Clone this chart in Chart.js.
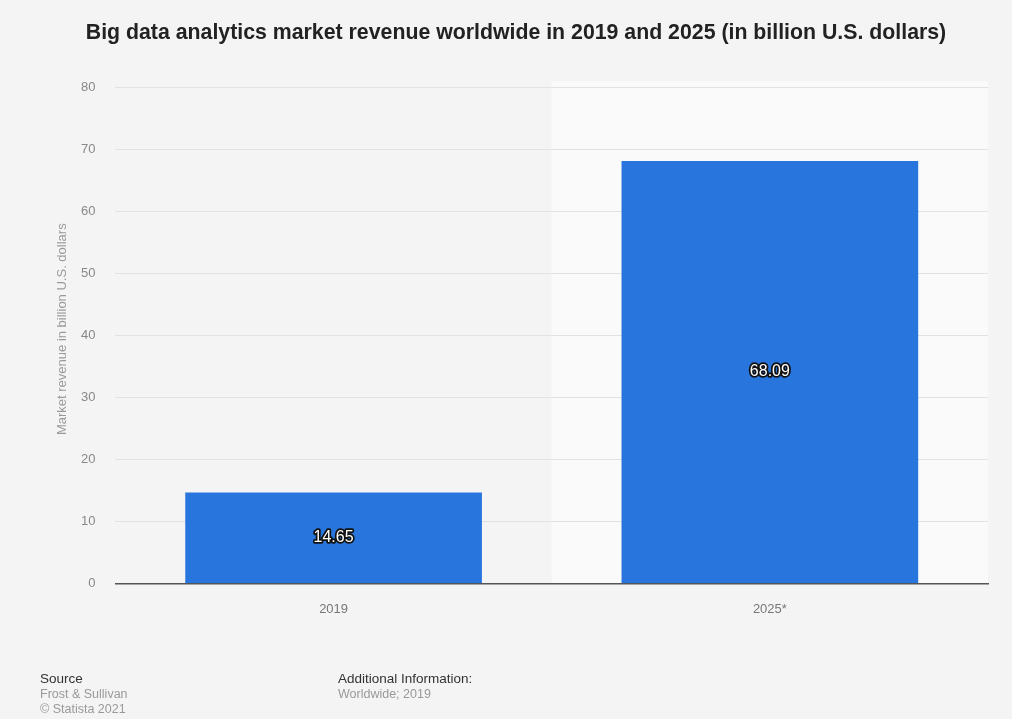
<!DOCTYPE html>
<html>
<head>
<meta charset="utf-8">
<script src="https://cdn.jsdelivr.net/npm/chart.js@4.4.1/dist/chart.umd.min.js"></script>
<style>
  body { margin: 0; background: #f4f4f4; font-family: "Liberation Sans", Arial, sans-serif; }
  #wrap { position: relative; width: 1012px; height: 719px; }
  .foot { position: absolute; font-size: 12.5px; line-height: 15px; color: #999; }
  .foot b { font-weight: normal; font-size: 13.5px; color: #333; }
</style>
</head>
<body>
<div id="wrap">
  <canvas id="chart" width="1012" height="719"></canvas>
  <div class="foot" style="left:40px; top:671px;"><b>Source</b><br>Frost &amp; Sullivan<br>© Statista 2021</div>
  <div class="foot" style="left:338px; top:671px;"><b>Additional Information:</b><br>Worldwide; 2019</div>
</div>
<script>
const years = ['2019', '2025*'];
const revenue = [14.65, 68.09];
const yTicks = [0, 10, 20, 30, 40, 50, 60, 70, 80];
const chartTitle = 'Big data analytics market revenue worldwide in 2019 and 2025 (in billion U.S. dollars)';
const yTitle = 'Market revenue in billion U.S. dollars';

// lighter band behind the last category
const bandPlugin = {
  id: 'band',
  beforeDraw(chart) {
    const { ctx, chartArea, scales } = chart;
    const x = scales.x;
    const half = (x.getPixelForValue(1) - x.getPixelForValue(0)) / 2;
    const left = x.getPixelForValue(1) - half;
    ctx.save();
    ctx.fillStyle = '#fafafa';
    ctx.fillRect(left, chartArea.top - 6, chartArea.right - left, chartArea.bottom - chartArea.top + 6);
    ctx.restore();
  }
};

const labelPlugin = {
  id: 'valueLabels',
  afterDatasetsDraw(chart) {
    const { ctx, chartArea } = chart;
    const meta = chart.getDatasetMeta(0);
    ctx.save();
    ctx.font = '16px "Liberation Sans", Arial, sans-serif';
    ctx.textAlign = 'center';
    ctx.textBaseline = 'middle';
    ctx.lineJoin = 'round';
    meta.data.forEach((bar, i) => {
      const txt = revenue[i].toFixed(2);
      const y = (bar.y + bar.base) / 2;
      ctx.lineWidth = 3.5;
      ctx.strokeStyle = '#111';
      ctx.strokeText(txt, bar.x, y);
      ctx.fillStyle = '#fff';
      ctx.fillText(txt, bar.x, y);
    });
    // main title
    ctx.font = 'bold 21.3px "Liberation Sans", Arial, sans-serif';
    ctx.fillStyle = '#222';
    ctx.fillText(chartTitle, 516, 33);
    // y axis title
    ctx.translate(62, (chartArea.top + chartArea.bottom) / 2 - 6);
    ctx.rotate(-Math.PI / 2);
    ctx.font = '13px "Liberation Sans", Arial, sans-serif';
    ctx.fillStyle = '#9a9a9a';
    ctx.fillText(yTitle, 0, 0);
    ctx.restore();
  }
};

new Chart(document.getElementById('chart'), {
  type: 'bar',
  data: {
    labels: years,
    datasets: [{
      data: revenue,
      backgroundColor: '#2876dd',
      categoryPercentage: 1,
      barPercentage: 0.68
    }]
  },
  options: {
    responsive: false,
    animation: false,
    layout: { padding: { top: 87, left: 61, right: 24, bottom: 92 } },
    plugins: {
      legend: { display: false },
      tooltip: { enabled: false },
      title: { display: false }
    },
    scales: {
      x: {
        grid: { display: false },
        border: { color: '#555', width: 1.5 },
        ticks: { color: '#777', font: { size: 13 }, padding: 10 }
      },
      y: {
        min: 0,
        max: 80,
        afterBuildTicks(scale) { scale.ticks = yTicks.map(v => ({ value: v })); },
        grid: { color: '#e2e2e2', drawTicks: false },
        border: { display: false },
        ticks: { color: '#888', font: { size: 13 }, padding: 20 }
      }
    }
  },
  plugins: [bandPlugin, labelPlugin]
});
</script>
</body>
</html>
